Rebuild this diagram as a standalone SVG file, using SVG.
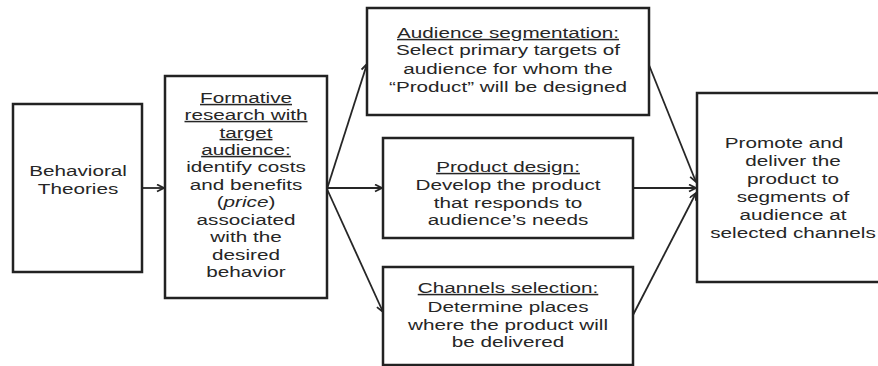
<svg xmlns="http://www.w3.org/2000/svg" width="878" height="366" viewBox="0 0 878 366">
  <style>
    .box { fill: #ffffff; stroke: #222222; stroke-width: 2.5; }
    .t { font-family: "Liberation Sans", Arial, sans-serif; font-size: 15px; fill: #262626; text-anchor: middle; }
    .u { text-decoration: underline; }
    .conn { fill: none; stroke: #262626; stroke-width: 1.8; }
  </style>
  <defs>
    <marker id="arr" markerUnits="userSpaceOnUse" markerWidth="10" markerHeight="10" refX="8" refY="4" orient="auto">
      <path d="M1,0.5 L8,4 L1,7.5" fill="none" stroke="#262626" stroke-width="1.8"/>
    </marker>
  </defs>
  <rect width="878" height="366" fill="#ffffff"/>

  <g id="connectors">
    <line class="conn" x1="142" y1="188" x2="164" y2="188" marker-end="url(#arr)"/>
    <line class="conn" x1="327" y1="189" x2="367" y2="64" marker-end="url(#arr)"/>
    <line class="conn" x1="327" y1="188" x2="382" y2="188" marker-end="url(#arr)"/>
    <line class="conn" x1="327" y1="189" x2="383" y2="312" marker-end="url(#arr)"/>
    <line class="conn" x1="649" y1="65" x2="696" y2="182" marker-end="url(#arr)"/>
    <line class="conn" x1="633" y1="188" x2="696" y2="188" marker-end="url(#arr)"/>
    <line class="conn" x1="633" y1="315" x2="696" y2="193" marker-end="url(#arr)"/>
  </g>

  <g id="node-behavioral">
    <rect class="box" x="13" y="104" width="129" height="168"/>
    <g transform="translate(78,0) scale(1.38,1)">
      <text class="t" x="0" y="176">Behavioral</text>
      <text class="t" x="0" y="194">Theories</text>
    </g>
  </g>

  <g id="node-formative">
    <rect class="box" x="165" y="76" width="162" height="222"/>
    <g transform="translate(246,0) scale(1.38,1)">
      <text class="t u" x="0" y="103">Formative</text>
      <text class="t u" x="0" y="120">research with</text>
      <text class="t u" x="0" y="138">target</text>
      <text class="t u" x="0" y="155">audience:</text>
      <text class="t" x="0" y="172">identify costs</text>
      <text class="t" x="0" y="190">and benefits</text>
      <text class="t" x="0" y="207">(<tspan font-style="italic">price</tspan>)</text>
      <text class="t" x="0" y="225">associated</text>
      <text class="t" x="0" y="242">with the</text>
      <text class="t" x="0" y="260">desired</text>
      <text class="t" x="0" y="277">behavior</text>
    </g>
  </g>

  <g id="node-segmentation">
    <rect class="box" x="367" y="8" width="282" height="107"/>
    <g transform="translate(508,0) scale(1.38,1)">
      <text class="t u" x="0" y="38">Audience segmentation:</text>
      <text class="t" x="0" y="55">Select primary targets of</text>
      <text class="t" x="0" y="74">audience for whom the</text>
      <text class="t" x="0" y="92">“Product” will be designed</text>
    </g>
  </g>

  <g id="node-product">
    <rect class="box" x="383" y="138" width="250" height="100"/>
    <g transform="translate(508,0) scale(1.38,1)">
      <text class="t u" x="0" y="172">Product design:</text>
      <text class="t" x="0" y="190">Develop the product</text>
      <text class="t" x="0" y="208">that responds to</text>
      <text class="t" x="0" y="225">audience’s needs</text>
    </g>
  </g>

  <g id="node-channels">
    <rect class="box" x="383" y="267" width="250" height="98"/>
    <g transform="translate(508,0) scale(1.38,1)">
      <text class="t u" x="0" y="293">Channels selection:</text>
      <text class="t" x="0" y="312">Determine places</text>
      <text class="t" x="0" y="330">where the product will</text>
      <text class="t" x="0" y="347">be delivered</text>
    </g>
  </g>

  <g id="node-promote">
    <rect class="box" x="697" y="93" width="190" height="189"/>
    <g transform="translate(784,0) scale(1.38,1)">
      <text class="t" x="0" y="148">Promote and</text>
    </g>
    <g transform="translate(793,0) scale(1.38,1)">
      <text class="t" x="0" y="166">deliver the</text>
      <text class="t" x="0" y="184">product to</text>
      <text class="t" x="0" y="202">segments of</text>
      <text class="t" x="0" y="220">audience at</text>
      <text class="t" x="0" y="238">selected channels</text>
    </g>
  </g>
</svg>
